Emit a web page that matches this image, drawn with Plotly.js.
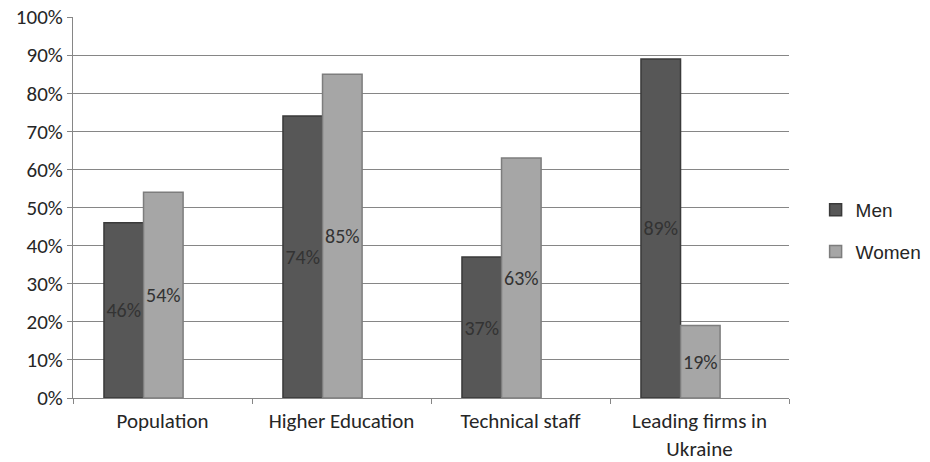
<!DOCTYPE html>
<html>
<head>
<meta charset="utf-8">
<script src="https://cdn.plot.ly/plotly-3.0.1.min.js"></script>
<style>html,body{margin:0;padding:0;background:#fff;}#chart{width:930px;height:462px;}</style>
</head>
<body>
<div id="chart"></div>
<script>
var categories = ["Population", "Higher Education", "Technical staff", "Leading firms in<br>Ukraine"];
var men = [46, 74, 37, 89];
var women = [54, 85, 63, 19];
var yTickVals = [0, 10, 20, 30, 40, 50, 60, 70, 80, 90, 100];
var yTickText = ["0%", "10%", "20%", "30%", "40%", "50%", "60%", "70%", "80%", "90%", "100%"];

var fontFam = "Carlito, 'Open Sans', 'Liberation Sans', sans-serif";

function mk(name, vals, color, lineColor, off) {
  return {
    type: 'bar', name: name, x: categories, y: vals, legendgroup: name,
    width: 0.221, offset: off,
    text: vals.map(function(v){return v + '%';}),
    textposition: 'inside', insidetextanchor: 'middle', constraintext: 'none',
    textangle: 0,
    textfont: {family: fontFam, size: 20, color: '#333333'},
    marker: {color: color, line: {color: lineColor, width: 1.5}},
    hoverinfo: 'skip'
  };
}

var data = [
  mk('Men', men, '#575757', '#3a3a3a', -0.327),
  mk('Women', women, '#a6a6a6', '#7d7d7d', -0.106)
];

var layout = {
  width: 930, height: 462,
  margin: {l: 73, r: 141, t: 17, b: 64, autoexpand: false},
  paper_bgcolor: '#ffffff', plot_bgcolor: '#ffffff',
  barmode: 'overlay',
  font: {family: fontFam, size: 20, color: '#262626'},
  showlegend: true,
  legend: {xref: 'container', yref: 'container', x: 0.877, y: 0.5, yanchor: 'middle', xanchor: 'left',
           font: {family: "'Liberation Sans', Arial, sans-serif", size: 19, color: '#262626'},
           tracegroupgap: 14, itemwidth: 30},
  xaxis: {
    type: 'category', tickson: 'boundaries', ticks: 'outside', ticklen: 5,
    tickcolor: '#868686', showline: true, linecolor: '#868686', linewidth: 1,
    showgrid: false, tickfont: {family: fontFam, size: 21, color: '#262626'},
    ticklabelstandoff: 4,
    fixedrange: true, automargin: false
  },
  yaxis: {
    range: [0, 100], tickvals: yTickVals, ticktext: yTickText,
    ticks: 'outside', ticklen: 5, tickcolor: '#868686',
    showline: true, linecolor: '#868686', linewidth: 1,
    showgrid: true, gridcolor: '#868686', gridwidth: 1, zeroline: false,
    tickfont: {family: fontFam, size: 21, color: '#262626'},
    fixedrange: true, automargin: false
  }
};

Plotly.newPlot('chart', data, layout, {displayModeBar: false, staticPlot: true});
</script>
</body>
</html>
